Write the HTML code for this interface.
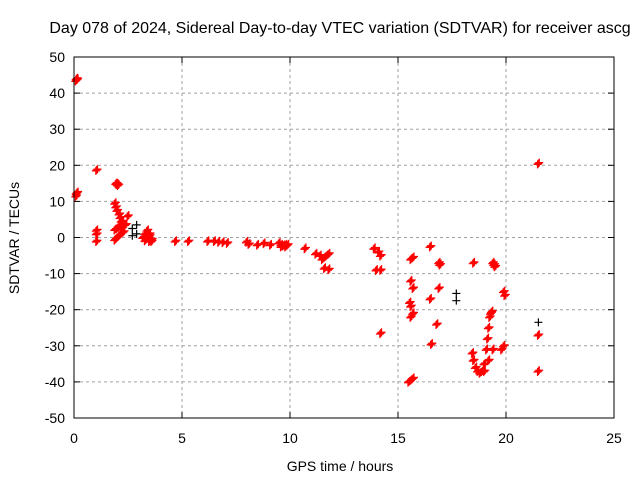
<!DOCTYPE html>
<html><head><meta charset="utf-8"><style>
body{margin:0;background:#fff;font-family:"Liberation Sans",sans-serif}
svg text{font-family:"Liberation Sans",sans-serif;font-size:14px;fill:#000}
</style></head><body>
<svg id="c" width="640" height="480" xmlns="http://www.w3.org/2000/svg">
<rect width="640" height="480" fill="#fff"/>
<text x="340" y="33" text-anchor="middle" style="font-size:16px">Day 078 of 2024, Sidereal Day-to-day VTEC variation (SDTVAR) for receiver ascg</text>
<g id="grid"></g>
<g id="ticks"></g>
<g id="pts"></g>
<rect x="74" y="57" width="540" height="361" fill="none" stroke="#000" stroke-width="1"/>
<text x="340" y="471" text-anchor="middle">GPS time / hours</text>
<text transform="translate(19,238) rotate(-90)" text-anchor="middle">SDTVAR / TECUs</text>
</svg>
<script>
const xTicks=[0,5,10,15,20,25];
const yTicks=[-50,-40,-30,-20,-10,0,10,20,30,40,50];
const redHours=[
0.1,0.12,0.15,0.1,0.12,0.15,
1.05,1.05,1.05,1.05,
2.0,2.05,1.95,
1.9,1.95,2.0,2.1,2.15,2.2,2.25,
1.9,2.0,2.1,2.2,2.3,2.4,
1.9,2.0,2.1,2.2,2.3,
2.5,
3.2,3.3,3.4,3.5,3.6,3.3,3.4,3.5,3.6,3.3,3.5,
4.7,5.3,6.2,6.5,6.7,6.9,7.1,8.0,8.1,8.5,8.8,9.1,9.5,9.6,9.7,9.8,9.9,9.6,9.8,
10.7,11.2,11.4,11.6,11.8,11.5,11.7,11.6,11.8,
13.9,14.1,14.2,14.0,14.2,14.2,
15.6,15.7,15.6,15.7,15.55,15.6,15.7,15.6,15.5,15.6,15.7,
16.5,16.5,16.55,16.9,16.95,16.8,16.9,
18.5,18.45,18.5,18.6,18.7,18.8,18.9,19.0,19.1,19.15,19.2,19.25,19.3,19.35,
19.0,19.2,19.4,
19.4,19.45,19.5,19.9,19.95,19.8,19.9,
21.5,21.5,21.5];
const redTecu=[
43.5,44,43.8,11.5,12.2,12.5,
18.7,2,1,-1,
14.8,14.5,15,
9.5,8.5,7.5,6.5,5.5,4.5,4,
2.2,2.6,3,3.2,3.4,3.6,
-0.6,0,0.6,1.2,1.6,
6,
0,1,2,1,-0.5,0,1,0.5,-1,-0.8,-1,
-1,-1,-1,-1,-1.2,-1.3,-1.5,-1.2,-1.8,-2,-1.6,-2,-1.5,-2,-2.2,-2,-2,-2.5,-2.5,
-3,-4.5,-5,-5.5,-4.5,-6,-5,-8.5,-8.8,
-3,-4,-5,-9,-9,-26.5,
-6,-5.5,-12,-14,-18,-19,-21,-22,-40,-39.5,-39,
-2.5,-17,-29.5,-7,-7.5,-24,-14,
-7,-32,-34,-36,-37,-37.5,-37,-35,-31,-28,-25,-22,-21,-20.5,
-37,-34,-31,
-7,-7.5,-8,-15,-16,-31,-30,
20.5,-27,-37];
const blackHours=[2.7,2.7,2.9,2.9,17.7,17.7,21.5];
const blackTecu=[2.5,0.5,3.5,1,-15.5,-17.5,-23.5];
const X0=74,X1=614,Y0=418,Y1=57;
const sx=v=>X0+(v-0)/(25-0)*(X1-X0);
const sy=v=>Y0-(v+50)/100*(Y0-Y1);
const NS='http://www.w3.org/2000/svg';
function mk(t,a,p){const e=document.createElementNS(NS,t);for(const k in a)e.setAttribute(k,a[k]);p.appendChild(e);return e;}
const grid=document.getElementById('grid'),ticks=document.getElementById('ticks'),pts=document.getElementById('pts');
xTicks.forEach(v=>{const x=sx(v);
 if(v>0&&v<25){const l=mk('line',{x1:x,x2:x,y1:Y1,y2:Y0,stroke:'#a0a0a0','stroke-dasharray':'3,3'},grid);
 
 }
 mk('line',{x1:x,x2:x,y1:Y0,y2:Y0-6,stroke:'#000'},ticks);mk('line',{x1:x,x2:x,y1:Y1,y2:Y1+6,stroke:'#000'},ticks);
 const t=mk('text',{x:x,y:443,'text-anchor':'middle'},ticks);t.textContent=v;
 
 });
yTicks.forEach(v=>{const y=sy(v);
 if(v>-50&&v<50){const l=mk('line',{x1:X0,x2:X1,y1:y,y2:y,stroke:'#a0a0a0','stroke-dasharray':'3,3'},grid);
 
 }
 mk('line',{x1:X0,x2:X0+6,y1:y,y2:y,stroke:'#000'},ticks);mk('line',{x1:X1,x2:X1-6,y1:y,y2:y,stroke:'#000'},ticks);
 const t=mk('text',{x:X0-9,y:y+5,'text-anchor':'end'},ticks);t.textContent=v;
 
 });
function cross(h,v,col,name){const x=sx(h),y=sy(v);
 const p=mk('path',{d:`M${x-4},${y}H${x+4}M${x},${y-4}V${y+4}`,stroke:col,'stroke-width':1.2,fill:'none'},pts);
 
 }
blackHours.forEach((h,i)=>cross(h,blackTecu[i],'#000','black-point'));
redHours.forEach((h,i)=>{cross(h,redTecu[i],'#f00','red-point');
 cross(h+0.04,redTecu[i]+0.25,'#f00','red-point');cross(h-0.04,redTecu[i]-0.25,'#f00','red-point');});
</script>
</body></html>
